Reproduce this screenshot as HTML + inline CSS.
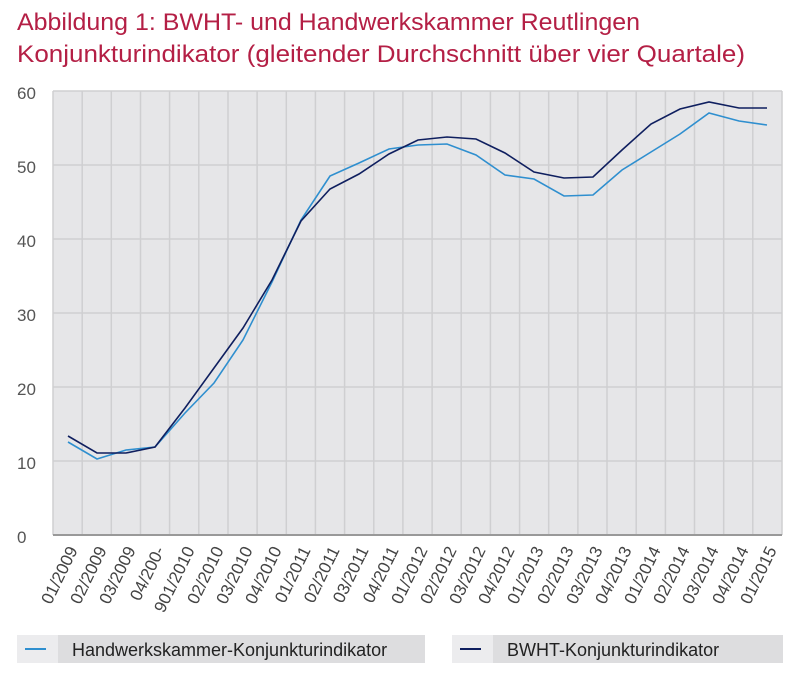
<!DOCTYPE html><html><head><meta charset="utf-8"><style>
body{margin:0;background:#fff;width:800px;height:675px;overflow:hidden;font-family:"Liberation Sans",sans-serif}
</style></head><body>
<svg width="800" height="675" xmlns="http://www.w3.org/2000/svg" font-family="Liberation Sans, sans-serif">
<text x="17" y="30" font-size="24" fill="#b41f45" textLength="623" lengthAdjust="spacingAndGlyphs">Abbildung 1: BWHT- und Handwerkskammer  Reutlingen</text>
<text x="17" y="62" font-size="24" fill="#b41f45" textLength="728" lengthAdjust="spacingAndGlyphs">Konjunkturindikator (gleitender Durchschnitt über vier Quartale)</text>
<rect x="53" y="91" width="729" height="444" fill="#e6e6e8"/>
<g stroke="#cfcfd1" stroke-width="1.5">
<line x1="53" x2="782" y1="91" y2="91"/><line x1="53" x2="782" y1="165" y2="165"/><line x1="53" x2="782" y1="239" y2="239"/><line x1="53" x2="782" y1="313" y2="313"/><line x1="53" x2="782" y1="387" y2="387"/><line x1="53" x2="782" y1="461" y2="461"/>
<path d="M53 91V535M82.2 91V535M111.3 91V535M140.5 91V535M169.6 91V535M198.8 91V535M228 91V535M257.1 91V535M286.3 91V535M315.4 91V535M344.6 91V535M373.8 91V535M402.9 91V535M432.1 91V535M461.2 91V535M490.4 91V535M519.6 91V535M548.7 91V535M577.9 91V535M607 91V535M636.2 91V535M665.4 91V535M694.5 91V535M723.7 91V535M752.8 91V535M782 91V535"/>
</g>
<line x1="53" x2="782" y1="535" y2="535" stroke="#999" stroke-width="2"/>
<g font-size="17" fill="#555">
<text x="17" y="99">60</text><text x="17" y="173">50</text><text x="17" y="247">40</text><text x="17" y="321">30</text><text x="17" y="395">20</text><text x="17" y="469">10</text><text x="17" y="543">0</text>
</g>
<polyline fill="none" stroke="#2f8fcf" stroke-width="1.6" points="68,442 97,459 126,450 155,447 185,413 214,383 243,340 272,282 301,220 330,176 359,163 389,149 418,145 447,144 476,155 505,175 534,179 564,196 593,195 622,170 651,152 680,134 709,113 739,121 767,125"/>
<polyline fill="none" stroke="#0f1f5f" stroke-width="1.6" points="68,436 97,453 126,453 155,447 185,408 214,368 243,328 272,280 301,221 330,189 359,174 389,154 418,140 447,137 476,139 505,153 534,172 564,178 593,177 622,150 651,124 680,109 709,102 739,108 767,108"/>
<g font-size="17" fill="#444">
<text transform="translate(78,550) rotate(-64)" text-anchor="end">01/2009</text>
<text transform="translate(107,550) rotate(-64)" text-anchor="end">02/2009</text>
<text transform="translate(136,550) rotate(-64)" text-anchor="end">03/2009</text>
<text transform="translate(165,550) rotate(-64)" text-anchor="end">04/200-</text>
<text transform="translate(195,550) rotate(-64)" text-anchor="end">901/2010</text>
<text transform="translate(224,550) rotate(-64)" text-anchor="end">02/2010</text>
<text transform="translate(253,550) rotate(-64)" text-anchor="end">03/2010</text>
<text transform="translate(282,550) rotate(-64)" text-anchor="end">04/2010</text>
<text transform="translate(311,550) rotate(-64)" text-anchor="end">01/2011</text>
<text transform="translate(340,550) rotate(-64)" text-anchor="end">02/2011</text>
<text transform="translate(369,550) rotate(-64)" text-anchor="end">03/2011</text>
<text transform="translate(399,550) rotate(-64)" text-anchor="end">04/2011</text>
<text transform="translate(428,550) rotate(-64)" text-anchor="end">01/2012</text>
<text transform="translate(457,550) rotate(-64)" text-anchor="end">02/2012</text>
<text transform="translate(486,550) rotate(-64)" text-anchor="end">03/2012</text>
<text transform="translate(515,550) rotate(-64)" text-anchor="end">04/2012</text>
<text transform="translate(544,550) rotate(-64)" text-anchor="end">01/2013</text>
<text transform="translate(574,550) rotate(-64)" text-anchor="end">02/2013</text>
<text transform="translate(603,550) rotate(-64)" text-anchor="end">03/2013</text>
<text transform="translate(632,550) rotate(-64)" text-anchor="end">04/2013</text>
<text transform="translate(661,550) rotate(-64)" text-anchor="end">01/2014</text>
<text transform="translate(690,550) rotate(-64)" text-anchor="end">02/2014</text>
<text transform="translate(719,550) rotate(-64)" text-anchor="end">03/2014</text>
<text transform="translate(749,550) rotate(-64)" text-anchor="end">04/2014</text>
<text transform="translate(777,550) rotate(-64)" text-anchor="end">01/2015</text>
</g>
<rect x="17" y="635" width="41" height="28" fill="#ececee"/><rect x="58" y="635" width="367" height="28" fill="#dddddf"/>
<line x1="25" x2="46" y1="649" y2="649" stroke="#2f8fcf" stroke-width="2"/>
<text x="72" y="656" font-size="18" fill="#222">Handwerkskammer-Konjunkturindikator</text>
<rect x="452" y="635" width="41" height="28" fill="#ececee"/><rect x="493" y="635" width="290" height="28" fill="#dddddf"/>
<line x1="460" x2="481" y1="649" y2="649" stroke="#0f1f5f" stroke-width="2"/>
<text x="507" y="656" font-size="18" fill="#222">BWHT-Konjunkturindikator</text>
</svg>
</body></html>
